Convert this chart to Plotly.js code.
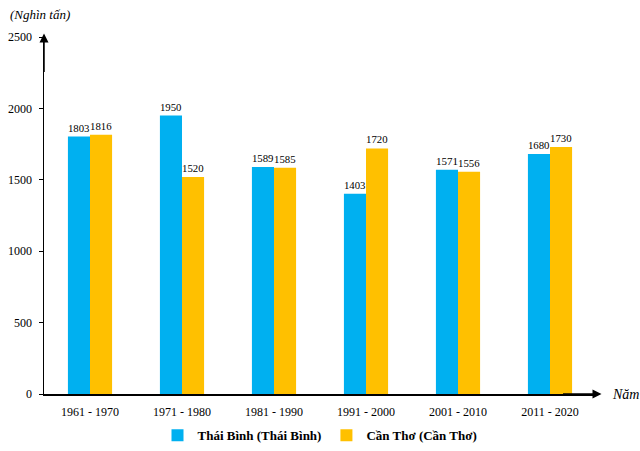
<!DOCTYPE html>
<html>
<head>
<meta charset="utf-8">
<script src="https://cdn.plot.ly/plotly-3.0.1.min.js"></script>
<style>html,body{margin:0;padding:0;background:#fff;}#chart{width:640px;height:451px;}</style>
</head>
<body>
<div id="chart"></div>
<script>
var categories = ["1961 - 1970", "1971 - 1980", "1981 - 1990", "1991 - 2000", "2001 - 2010", "2011 - 2020"];
var thaiBinh = [1803, 1950, 1589, 1403, 1571, 1680];
var canTho = [1816, 1520, 1585, 1720, 1556, 1730];
var seriesNames = ["Thái Bình (Thái Bình)", "Cần Thơ (Cần Thơ)"];
var yTicks = [0, 500, 1000, 1500, 2000, 2500];

var serif = "Liberation Serif, Times New Roman, serif";
var traces = [
  {type: "bar", name: seriesNames[0], x: categories, y: thaiBinh, marker: {color: "#00B0F0"},
   text: thaiBinh.map(String), textposition: "outside", cliponaxis: false,
   textfont: {family: serif, size: 11, color: "#000"}},
  {type: "bar", name: seriesNames[1], x: categories, y: canTho, marker: {color: "#FFC000"},
   text: canTho.map(String), textposition: "outside", cliponaxis: false,
   textfont: {family: serif, size: 11, color: "#000"}}
];

var layout = {
  width: 640, height: 451,
  margin: {l: 44, r: 44, t: 37, b: 57},
  paper_bgcolor: "#fff", plot_bgcolor: "#fff",
  barmode: "group", bargap: 0.52, bargroupgap: 0,
  font: {family: serif, size: 12, color: "#000"},
  showlegend: true,
  legend: {orientation: "h", xref: "container", yref: "container", x: 0.5, xanchor: "center",
           y: 0.035, yanchor: "middle",
           font: {family: serif, size: 13, color: "#000", weight: "bold"}, itemwidth: 30, tracegroupgap: 0},
  xaxis: {showline: true, linecolor: "#000", linewidth: 1.5, ticks: "", showgrid: false,
          tickfont: {family: serif, size: 12, color: "#000"}, zeroline: false, ticklabelstandoff: 6},
  yaxis: {range: [0, 2500], tickvals: yTicks, showline: true, linecolor: "#000", linewidth: 1.5,
          ticks: "outside", ticklen: 4, tickcolor: "#000", showgrid: false, zeroline: false,
          tickfont: {family: serif, size: 12, color: "#000"}, ticklabelstandoff: 4},
  annotations: [
    {xref: "paper", yref: "paper", x: 0, y: 1.01, ax: 0, ay: 40, axref: "pixel", ayref: "pixel",
     text: "", showarrow: true, arrowhead: 2, arrowsize: 1.2, arrowwidth: 1.5, arrowcolor: "#000"},
    {xref: "paper", yref: "paper", x: 1.01, y: 0, ax: -40, ay: 0, axref: "pixel", ayref: "pixel",
     text: "", showarrow: true, arrowhead: 2, arrowsize: 1.2, arrowwidth: 1.5, arrowcolor: "#000"},
    {xref: "paper", yref: "paper", x: 1.025, y: 0.0, xanchor: "left", yanchor: "middle",
     text: "<i>Năm</i>", showarrow: false, font: {family: serif, size: 14, color: "#000"}},
    {xref: "paper", yref: "paper", x: -0.065, y: 1.064, xanchor: "left", yanchor: "middle",
     text: "<i>(Nghìn tấn)</i>", showarrow: false, font: {family: serif, size: 13, color: "#000"}}
  ]
};

Plotly.newPlot("chart", traces, layout, {displayModeBar: false, staticPlot: true});
</script>
</body>
</html>
